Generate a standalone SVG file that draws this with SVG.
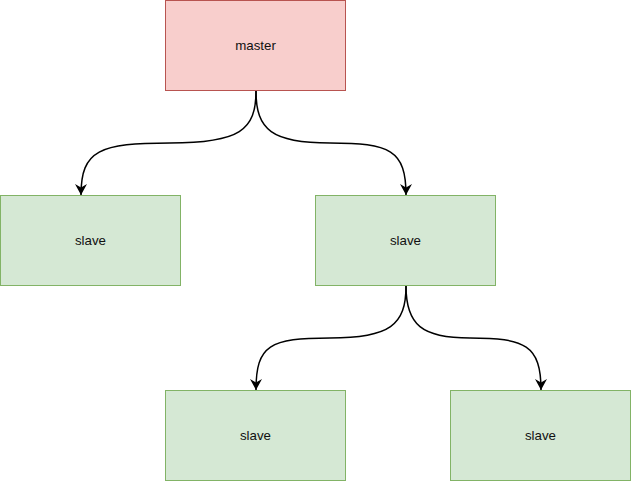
<svg xmlns="http://www.w3.org/2000/svg" width="633" height="483" viewBox="0 0 633 483">
<style>
.m{fill:#f8cecc;stroke:#b85450;stroke-width:1}
.s{fill:#d5e8d4;stroke:#82b366;stroke-width:1}
.t{font-family:"Liberation Sans",Arial,sans-serif;font-size:13.3px;fill:#111;text-anchor:middle;dominant-baseline:central}
.e{fill:none;stroke:#000;stroke-width:1.5}
</style>
<defs>
<marker id="a" viewBox="0 0 11 12" refX="11" refY="6" markerWidth="11" markerHeight="12" markerUnits="userSpaceOnUse" orient="auto">
<path d="M0,0 L11,6 L0,12 L3.5,6 Z" fill="#000"/>
</marker>
</defs>
<rect width="633" height="483" fill="#fff"/>
<g id="edges">
<path class="e" d="M256,91 C256,130 240,143 170,143 C100,143 81,150 81,195" marker-end="url(#a)"/>
<path class="e" d="M256,91 C256,130 272,143 330,143 C390,143 406,150 406,195" marker-end="url(#a)"/>
<path class="e" d="M406,286 C406,325 390,338 330,338 C270,338 256,345 256,390" marker-end="url(#a)"/>
<path class="e" d="M406,286 C406,325 422,338 470,338 C525,338 541,345 541,390" marker-end="url(#a)"/>
</g>
<g id="master"><rect class="m" x="165.5" y="0.5" width="180" height="90"/><text class="t" x="255.5" y="45.5">master</text></g>
<g id="slave1"><rect class="s" x="0.5" y="195.5" width="180" height="90"/><text class="t" x="90.5" y="240.5">slave</text></g>
<g id="slave2"><rect class="s" x="315.5" y="195.5" width="180" height="90"/><text class="t" x="405.5" y="240.5">slave</text></g>
<g id="slave3"><rect class="s" x="165.5" y="390.5" width="180" height="90"/><text class="t" x="255.5" y="435.5">slave</text></g>
<g id="slave4"><rect class="s" x="450.5" y="390.5" width="180" height="90"/><text class="t" x="540.5" y="435.5">slave</text></g>
</svg>
